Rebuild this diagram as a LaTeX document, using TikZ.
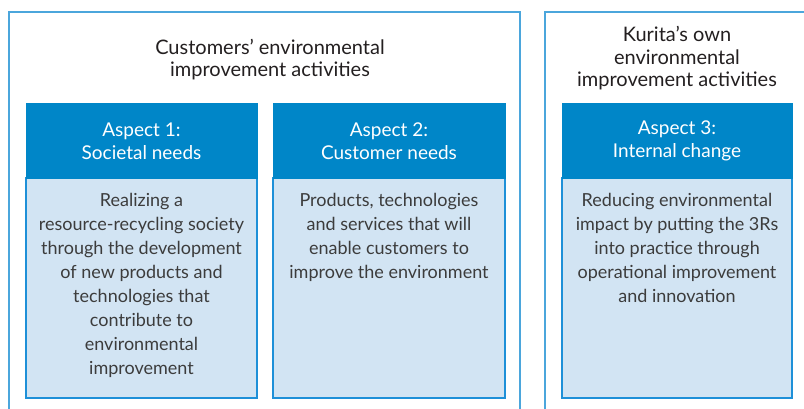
\documentclass[tikz,border=0pt]{standalone}
\usepackage{fontspec}
\setmainfont{Lato}
\definecolor{hdrblue}{RGB}{0,134,200}
\definecolor{bodyfill}{RGB}{210,228,243}
\definecolor{bodyline}{RGB}{30,144,216}
\definecolor{outerline}{RGB}{75,166,220}
\definecolor{titletext}{RGB}{35,31,32}
\definecolor{bodytext}{RGB}{60,60,60}
\begin{document}
\begin{tikzpicture}[x=1pt,y=-1pt,
  outerbox/.style={draw=outerline,line width=1.6pt},
  hdrbox/.style={fill=hdrblue,draw=hdrblue,line width=0.8pt},
  bodybox/.style={fill=bodyfill,draw=bodyline,line width=1.2pt},
  titletxt/.style={text=titletext,align=center,font=\fontsize{20}{22.5}\selectfont,inner sep=0pt},
  hdrtxt/.style={text=white,align=center,font=\fontsize{19}{23}\selectfont,inner sep=0pt},
  bodytxt/.style={text=bodytext,align=center,font=\fontsize{18}{24}\selectfont,inner sep=0pt,anchor=north}]
\useasboundingbox (0,0) rectangle (804,408);
\clip (0,0) rectangle (804,408);
% outer frames
\draw[outerbox] (9,430) -- (9,12) -- (520,12) -- (520,430);
\draw[outerbox] (545,430) -- (545,12) -- (820,12);
% titles
\node[titletxt] (t1) at (270,59.5) {Customers’ environmental\\improvement activities};
\node[titletxt] (t2) at (677,58.5) {Kurita’s own\\environmental\\improvement activities};
% aspect 1
\draw[bodybox] (26,178) rectangle (257,398);
\draw[hdrbox] (26,103) rectangle (257,178);
\node[hdrtxt] (h1) at (141.5,141) {Aspect 1:\\Societal needs};
\node[bodytxt] (b1) at (141.5,193) {Realizing a\\resource-recycling society\\through the development\\of new products and\\technologies that\\contribute to\\environmental\\improvement};
% aspect 2
\draw[bodybox] (273,178) rectangle (505,398);
\draw[hdrbox] (273,103) rectangle (505,178);
\node[hdrtxt] (h2) at (389,141) {Aspect 2:\\Customer needs};
\node[bodytxt] (b2) at (389,193) {Products, technologies\\and services that will\\enable customers to\\improve the environment};
% aspect 3
\draw[bodybox] (562,178) rectangle (792,398);
\draw[hdrbox] (562,103) rectangle (792,178);
\node[hdrtxt] (h3) at (677,141) {Aspect 3:\\Internal change};
\node[bodytxt] (b3) at (677,193) {Reducing environmental\\impact by putting the 3Rs\\into practice through\\operational improvement\\and innovation};
\end{tikzpicture}
\end{document}
